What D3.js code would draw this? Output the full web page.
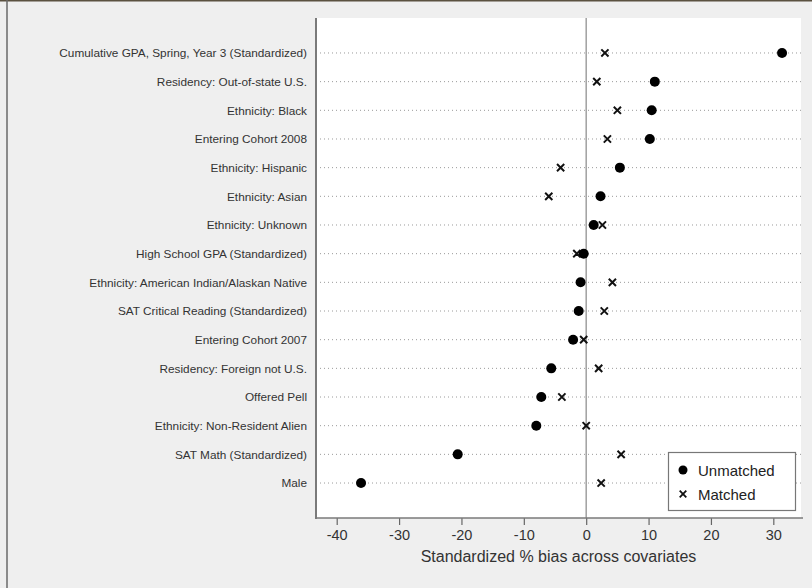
<!DOCTYPE html>
<html>
<head>
<meta charset="utf-8">
<script src="https://cdn.jsdelivr.net/npm/d3@7"></script>
<style>
  html, body { margin: 0; padding: 0; background: #efefef; }
  svg { display: block; font-family: "Liberation Sans", Arial, sans-serif; }
</style>
</head>
<body>
<svg id="chart" width="812" height="588"></svg>
<script>
// Covariates, top to bottom
const covariates = [
  "Cumulative GPA, Spring, Year 3 (Standardized)",
  "Residency: Out-of-state U.S.",
  "Ethnicity: Black",
  "Entering Cohort 2008",
  "Ethnicity: Hispanic",
  "Ethnicity: Asian",
  "Ethnicity: Unknown",
  "High School GPA (Standardized)",
  "Ethnicity: American Indian/Alaskan Native",
  "SAT Critical Reading (Standardized)",
  "Entering Cohort 2007",
  "Residency: Foreign not U.S.",
  "Offered Pell",
  "Ethnicity: Non-Resident Alien",
  "SAT Math (Standardized)",
  "Male"
];

// Standardized % bias before matching
const unmatched = [31.4, 11.0, 10.5, 10.2, 5.4, 2.3, 1.2, -0.4, -0.9, -1.2, -2.1, -5.6, -7.2, -8.0, -20.6, -36.1];

// Standardized % bias after matching
const matched = [3.0, 1.7, 5.0, 3.4, -4.1, -6.0, 2.6, -1.5, 4.2, 2.9, -0.4, 2.0, -3.9, 0.0, 5.6, 2.4];

const xTicks = [-40, -30, -20, -10, 0, 10, 20, 30];
const xTitle = "Standardized % bias across covariates";
const legendLabels = ["Unmatched", "Matched"];

const svg = d3.select("#chart");

// Outer frame
svg.append("rect").attr("x", 0).attr("y", 0).attr("width", 812).attr("height", 588).attr("fill", "#efefef");
svg.append("line").attr("x1", 0).attr("x2", 812).attr("y1", 0.5).attr("y2", 0.5)
  .attr("stroke", "#5b5140").attr("stroke-width", 2);
svg.append("line").attr("x1", 7).attr("x2", 7).attr("y1", 0).attr("y2", 588)
  .attr("stroke", "#6a6a6a").attr("stroke-width", 1.5);

const plot = { left: 316, right: 801, top: 18, bottom: 518 };

const x = d3.scaleLinear().domain([-43.32, 34.44]).range([plot.left, plot.right]);
const y = d3.scalePoint().domain(covariates).range([plot.top, plot.bottom]).padding(1.22);

// Plot region
svg.append("rect")
  .attr("x", plot.left).attr("y", plot.top)
  .attr("width", plot.right - plot.left).attr("height", plot.bottom - plot.top)
  .attr("fill", "#ffffff");

// Dotted row guides
svg.append("g").selectAll("line").data(covariates).join("line")
  .attr("x1", plot.left).attr("x2", plot.right)
  .attr("y1", d => y(d)).attr("y2", d => y(d))
  .attr("stroke", "#9a9a9a").attr("stroke-width", 1)
  .attr("stroke-dasharray", "1,3");

// Zero reference line
svg.append("line")
  .attr("x1", x(0)).attr("x2", x(0))
  .attr("y1", plot.top).attr("y2", plot.bottom)
  .attr("stroke", "#a0a0a0").attr("stroke-width", 1.5);

// Y axis
const yAxis = svg.append("g")
  .attr("transform", `translate(${plot.left},0)`)
  .call(d3.axisLeft(y).tickSize(0).tickPadding(9));
yAxis.select(".domain").remove();
yAxis.selectAll("text").attr("font-size", 11.8).attr("fill", "#333")
  .attr("font-family", "\"Liberation Sans\", Arial, sans-serif");
svg.append("line")
  .attr("x1", plot.left).attr("x2", plot.left)
  .attr("y1", plot.top).attr("y2", plot.bottom + 1)
  .attr("stroke", "#7a7a7a").attr("stroke-width", 2);

// X axis
const xAxis = svg.append("g")
  .attr("transform", `translate(0,${plot.bottom})`)
  .call(d3.axisBottom(x).tickValues(xTicks).tickSize(7).tickPadding(5).tickFormat(d3.format("d")));
xAxis.select(".domain").remove();
xAxis.selectAll(".tick line").attr("stroke", "#666").attr("stroke-width", 1.2);
xAxis.selectAll("text").attr("font-size", 14.5).attr("fill", "#333")
  .attr("font-family", "\"Liberation Sans\", Arial, sans-serif")
  .text(d => d < 0 ? "-" + Math.abs(d) : d);
svg.append("line")
  .attr("x1", plot.left - 1).attr("x2", plot.right + 2)
  .attr("y1", plot.bottom).attr("y2", plot.bottom)
  .attr("stroke", "#7a7a7a").attr("stroke-width", 1.5);

svg.append("text")
  .attr("x", (plot.left + plot.right) / 2).attr("y", 561.5)
  .attr("text-anchor", "middle").attr("font-size", 16).attr("fill", "#333")
  .text(xTitle);

// Markers
const crossPath = s => `M${-s},${-s}L${s},${s}M${-s},${s}L${s},${-s}`;

svg.append("g").selectAll("path").data(covariates).join("path")
  .attr("transform", (d, i) => `translate(${x(matched[i])},${y(d)})`)
  .attr("d", crossPath(3.6))
  .attr("stroke", "#111").attr("stroke-width", 2).attr("fill", "none");

svg.append("g").selectAll("circle").data(covariates).join("circle")
  .attr("cx", (d, i) => x(unmatched[i])).attr("cy", d => y(d))
  .attr("r", 5).attr("fill", "#000");

// Legend
const lg = svg.append("g");
lg.append("rect").attr("x", 668.5).attr("y", 452.5).attr("width", 127).attr("height", 58)
  .attr("fill", "#fff").attr("stroke", "#777").attr("stroke-width", 1.2);
lg.append("circle").attr("cx", 683).attr("cy", 470).attr("r", 4.5).attr("fill", "#000");
lg.append("path").attr("transform", "translate(683,494)").attr("d", crossPath(3.3))
  .attr("stroke", "#111").attr("stroke-width", 1.8).attr("fill", "none");
lg.selectAll("text").data(legendLabels).join("text")
  .attr("x", 698).attr("y", (d, i) => 475.5 + i * 24)
  .attr("font-size", 15).attr("fill", "#222")
  .text(d => d);
</script>
</body>
</html>
